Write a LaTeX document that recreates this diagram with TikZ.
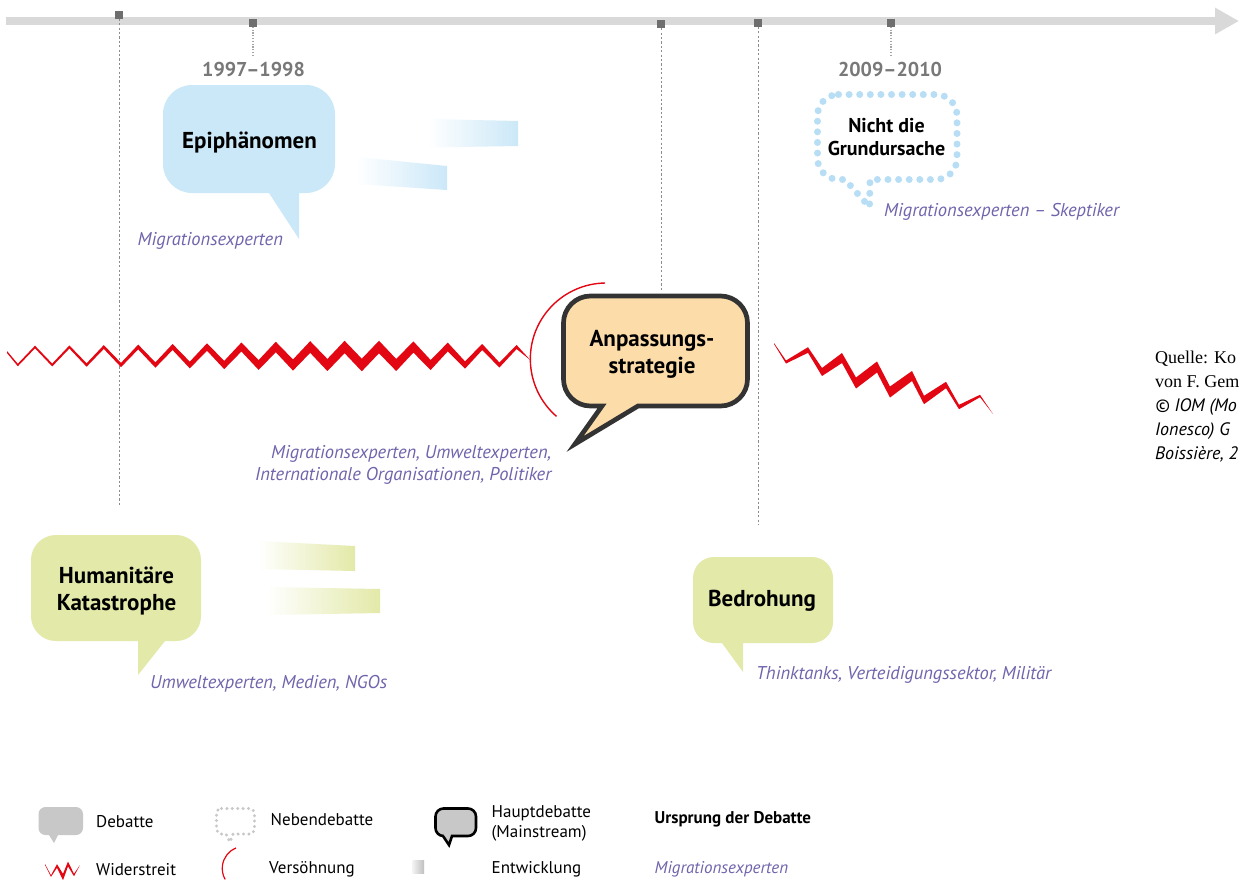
\documentclass[tikz,border=0pt]{standalone}
\usepackage{fontspec}
\setmainfont{PT Sans}
\newfontfamily\srcserif{Liberation Serif}
\usetikzlibrary{arrows.meta}
\definecolor{bubblue}{RGB}{203,232,248}
\definecolor{dotblue}{RGB}{184,222,246}
\definecolor{bubgreen}{RGB}{227,233,168}
\definecolor{peach}{RGB}{252,221,170}
\definecolor{zred}{RGB}{227,6,19}
\definecolor{actpurple}{RGB}{112,100,172}
\definecolor{tlgray}{RGB}{217,217,217}
\definecolor{tickgray}{RGB}{110,110,110}
\definecolor{yeargray}{RGB}{120,120,120}
\definecolor{vgray}{RGB}{140,140,140}
\definecolor{sgray}{RGB}{165,165,165}
\definecolor{leggray}{RGB}{200,200,200}
\definecolor{borderdark}{RGB}{51,51,51}
% rounded bubble: x1 y1 x2 y2 r tailleft tipx tipy tailright
\newcommand\bubpath[9]{(#1+#5,#2) -- (#3-#5,#2) .. controls (#3-0.448*#5,#2) and (#3,#2+0.448*#5) .. (#3,#2+#5) -- (#3,#4-#5) .. controls (#3,#4-0.448*#5) and (#3-0.448*#5,#4) .. (#3-#5,#4) -- (#9,#4) -- (#7,#8) -- (#6,#4) -- (#1+#5,#4) .. controls (#1+0.448*#5,#4) and (#1,#4-0.448*#5) .. (#1,#4-#5) -- (#1,#2+#5) .. controls (#1,#2+0.448*#5) and (#1+0.448*#5,#2) .. (#1+#5,#2) -- cycle}
\begin{document}
\begin{tikzpicture}[x=1pt,y=1pt,yscale=-1,
  tick/.style={rectangle,fill=tickgray,minimum size=8pt,inner sep=0pt},
  vline/.style={draw=vgray,line width=0.8pt,dash pattern=on 2.2pt off 2.2pt},
  sline/.style={draw=sgray,line width=1.4pt,dash pattern=on 1.2pt off 1.6pt},
  bubtxt/.style={font=\bfseries\fontsize{23}{27.5}\selectfont,align=center,inner sep=0pt},
  smalltxt/.style={font=\bfseries\fontsize{20}{23}\selectfont,align=center,inner sep=0pt},
  yr/.style={font=\bfseries\fontsize{20}{24}\selectfont,text=yeargray,inner sep=0pt},
  actor/.style={font=\itshape\fontsize{18.5}{21}\selectfont,text=actpurple,inner sep=0pt},
  leg/.style={font=\fontsize{17}{20}\selectfont,inner sep=0pt,anchor=west},
  srcline/.style={inner sep=0pt,anchor=base west},
  dotbubble/.style={draw=dotblue,line width=7pt,dash pattern=on 0pt off 10.6pt,line cap=round},
  evo/.style={shading=axis,left color=white,right color=#1}
]
\fill[white] (0,0) rectangle (1239,879);
\useasboundingbox (0,0) rectangle (1239,879);

% timeline
\coordinate (tlS) at (6,21);
\coordinate (tlE) at (1239,21);
\draw[tlgray,line width=8.5pt,-{Triangle[length=24pt,width=25pt]}] (tlS) -- (tlE);
\node[tick] (t1) at (119,14.5) {};
\node[tick] (t2) at (253,22.5) {};
\node[tick] (t3) at (661,24) {};
\node[tick] (t4) at (758,22.5) {};
\node[tick] (t5) at (891,22.5) {};
\coordinate (v1) at (119,505);
\coordinate (v2) at (253,57);
\coordinate (v3) at (661,292);
\coordinate (v4) at (758,525);
\coordinate (v5) at (891,57);
\draw[vline] (t1.south) -- (v1);
\draw[sline] (t2.south) -- (v2);
\draw[vline] (t3.south) -- (v3);
\draw[vline] (t4.south) -- (v4);
\draw[sline] (t5.south) -- (v5);
\node[yr] (y1) at (253.5,69.5) {1997–1998};
\node[yr] (y2) at (890,69.5) {2009–2010};

% development bars
\shade[evo=bubblue] (428,119) -- (518,121) -- (518,146) -- (428,147.5) -- cycle;
\shade[evo=bubblue] (357,157) -- (447,166) -- (447,190) -- (357,184) -- cycle;
\shade[evo=bubgreen] (258,541) -- (355,546) -- (355,571) -- (258,569) -- cycle;
\shade[evo=bubgreen] (267,587) -- (380,589) -- (380,613) -- (267,615) -- cycle;

% bubbles
\fill[bubblue] \bubpath{163}{85}{335}{193}{29}{269}{299}{239}{299};
\node[bubtxt,anchor=base] (epi) at (249.5,148) {Epiphänomen};
\fill[bubgreen] \bubpath{31}{535}{201}{641}{25}{138}{138}{675}{165};
\node[bubtxt] (hum) at (116.5,591) {Humanitäre\\Katastrophe};
\fill[bubgreen] \bubpath{693}{557}{833}{643}{21}{722}{743}{672}{743};
\node[bubtxt,anchor=base] (bed) at (762,606) {Bedrohung};
\draw[dotbubble] \bubpath{817.5}{94.5}{957}{179.5}{21}{845}{869.5}{207}{870};
\node[smalltxt] (nicht) at (886.5,137.5) {Nicht die\\Grundursache};
\draw[borderdark,fill=peach,line width=4.7pt,line join=miter] \bubpath{563.5}{296}{747.5}{406}{27}{602}{575}{444}{638};
\node[bubtxt] (anp) at (652,354.5) {Anpassungs-\\strategie};

% conflict zigzags
\fill[zred] (7,351)
  \foreach \k [evaluate=\k as \xx using 17.8+17.2*\k, evaluate=\k as \yy using 356+9*cos(180*\k), evaluate=\k as \hh using 1+5.3*exp(-((\xx-370)/(\xx<370?200:115))*((\xx-370)/(\xx<370?200:115)))] in {0,...,29} { -- (\xx,\yy-\hh) }
  -- (530.5,360.2)
  \foreach \k [evaluate=\k as \xx using 17.8+17.2*\k, evaluate=\k as \yy using 356+9*cos(180*\k), evaluate=\k as \hh using 1+5.3*exp(-((\xx-370)/(\xx<370?200:115))*((\xx-370)/(\xx<370?200:115)))] in {29,...,0} { -- (\xx,\yy+\hh) }
  -- (7,353) -- cycle;
\fill[zred] (774,343)
  \foreach \x/\y/\h in {786/362/1.5,808/350/2.8,822/372/4,842/358/5,856/383/5.5,877/367/5.5,890/392/5.5,912/376/5,924/400/4.2,946/385/3.2,959/407/2.2,980/396/1.2} { -- (\x,\y-\h) }
  -- (993,414)
  \foreach \x/\y/\h in {980/396/1.2,959/407/2.2,946/385/3.2,924/400/4.2,912/376/5,890/392/5.5,877/367/5.5,856/383/5.5,842/358/5,822/372/4,808/350/2.8,786/362/1.5} { -- (\x,\y+\h) }
  -- (774,344) -- cycle;

% reconciliation arc
\draw[zred,line width=1.4pt] (605,283) arc[start angle=269,end angle=131,radius=76pt];

% actor labels
\node[actor,anchor=base west] (a1) at (137.5,245) {Migrationsexperten};
\node[actor,anchor=base west] (a2) at (884,216) {Migrationsexperten – Skeptiker};
\node[actor,anchor=base east] (a3) at (551.5,458) {Migrationsexperten, Umweltexperten,};
\node[actor,anchor=base east] (a3b) at (551.5,480) {Internationale Organisationen, Politiker};
\node[actor,anchor=base west] (a4) at (150,688) {Umweltexperten, Medien, NGOs};
\node[actor,anchor=base west] (a5) at (756,679.5) {Thinktanks, Verteidigungssektor, Militär};

% source
\node[srcline,font=\srcserif\fontsize{18}{24}\selectfont] (s1) at (1155,363) {Quelle: Ko};
\node[srcline,font=\srcserif\fontsize{18}{24}\selectfont] (s2) at (1155,387) {von F. Gem};
\node[srcline,font=\itshape\fontsize{18}{24}\selectfont] (s3) at (1155,411) {© IOM (Mo};
\node[srcline,font=\itshape\fontsize{18}{24}\selectfont] (s4) at (1155,435) {Ionesco) G};
\node[srcline,font=\itshape\fontsize{18}{24}\selectfont] (s5) at (1155,459) {Boissière, 2};

% legend
\fill[leggray] \bubpath{38.5}{807}{83}{835}{7}{49}{54}{843}{58};
\node[leg] (l1) at (96,822) {Debatte};
\draw[draw=leggray,line width=3.3pt,dash pattern=on 0pt off 5.4pt,line cap=round] \bubpath{216.5}{808.5}{254.5}{834}{5}{226}{230}{842}{233};
\node[leg] (l2) at (270.5,819.5) {Nebendebatte};
\draw[black,fill=leggray,line width=2.6pt,line join=miter] \bubpath{435.5}{808.5}{476}{836}{8}{443}{449}{845}{452};
\node[leg,align=left] (l3) at (491.5,823) {Hauptdebatte\\(Mainstream)};
\node[leg,font=\bfseries\fontsize{17}{20}\selectfont] (l4) at (654.5,819.5) {Ursprung der Debatte};
\fill[zred] (45,864)
  \foreach \x/\y/\h in {51/876/0.8,57/866/1.8,63/877/3.2,68/864/2.4,74/875/1.2} { -- (\x,\y-\h) }
  -- (80,865)
  \foreach \x/\y/\h in {74/875/1.2,68/864/2.4,63/877/3.2,57/866/1.8,51/876/0.8} { -- (\x,\y+\h) }
  -- (45,865) -- cycle;
\node[leg] (l5) at (96,869.5) {Widerstreit};
\draw[zred,line width=1.2pt] (236,848) arc[start angle=248,end angle=150,radius=22pt];
\node[leg] (l6) at (269,869.5) {Versöhnung};
\shade[left color=gray!10,right color=gray!50] (412.5,860) rectangle (424,873);
\node[leg] (l7) at (491.5,869.5) {Entwicklung};
\node[leg,font=\itshape\fontsize{17}{20}\selectfont,text=actpurple] (l8) at (654.5,869.5) {Migrationsexperten};
\end{tikzpicture}
\end{document}
